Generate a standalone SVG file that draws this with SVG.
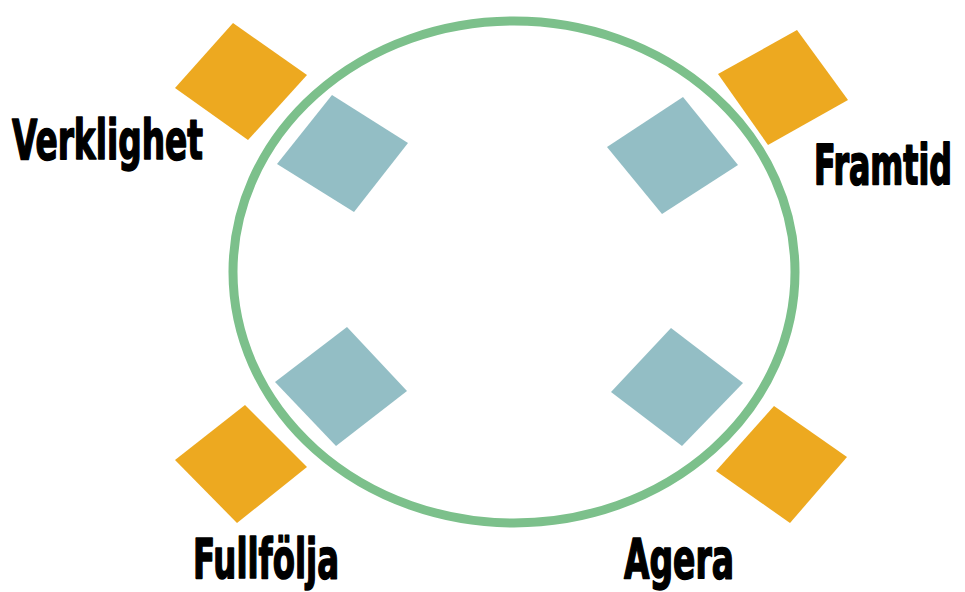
<svg xmlns="http://www.w3.org/2000/svg" width="965" height="592" viewBox="0 0 965 592">
  <style>
    .ring { fill: none; stroke: #7cc08b; stroke-width: 9; }
    .outer { fill: #eda920; }
    .inner { fill: #93bec5; }
    .label { font-family: "DejaVu Sans Condensed", "Liberation Sans Narrow", "Liberation Sans", sans-serif; font-weight: bold; font-size: 55px; fill: #000; stroke: #000; stroke-width: 1.6; stroke-linejoin: round; }
  </style>
  <rect width="965" height="592" fill="#fff"/>

  <!-- central cycle -->
  <g id="cycle">
    <ellipse class="ring" cx="514" cy="272" rx="281" ry="251"/>
  </g>

  <g id="verklighet">
    <polygon class="outer" points="233,23 307,75 248,140 175,88"/>
    <polygon class="inner" points="332,95 408,143 354,212 277,164"/>
    <text class="label" x="12" y="159" textLength="191" lengthAdjust="spacingAndGlyphs">Verklighet</text>
  </g>

  <g id="framtid">
    <polygon class="outer" points="797,30 848,100 768,145 718,74"/>
    <polygon class="inner" points="683,97 738,165 662,214 607,147"/>
    <!-- label squeezed horizontally to sit between the square and the right edge -->
    <text class="label" transform="translate(814,184) scale(0.75,1)" x="0" y="0" textLength="184" lengthAdjust="spacingAndGlyphs" style="stroke-width:1.8">Framtid</text>
  </g>

  <g id="fullfolja">
    <polygon class="inner" points="347,327 407,391 336,446 275,382"/>
    <polygon class="outer" points="245,405 307,467 237,523 175,460"/>
    <text class="label" x="193" y="578" textLength="146" lengthAdjust="spacingAndGlyphs">Fullfölja</text>
  </g>

  <g id="agera">
    <polygon class="inner" points="671,328 743,383 682,446 611,392"/>
    <polygon class="outer" points="774,406 847,457 790,523 716,471"/>
    <text class="label" x="624" y="578" textLength="110" lengthAdjust="spacingAndGlyphs">Agera</text>
  </g>
</svg>
